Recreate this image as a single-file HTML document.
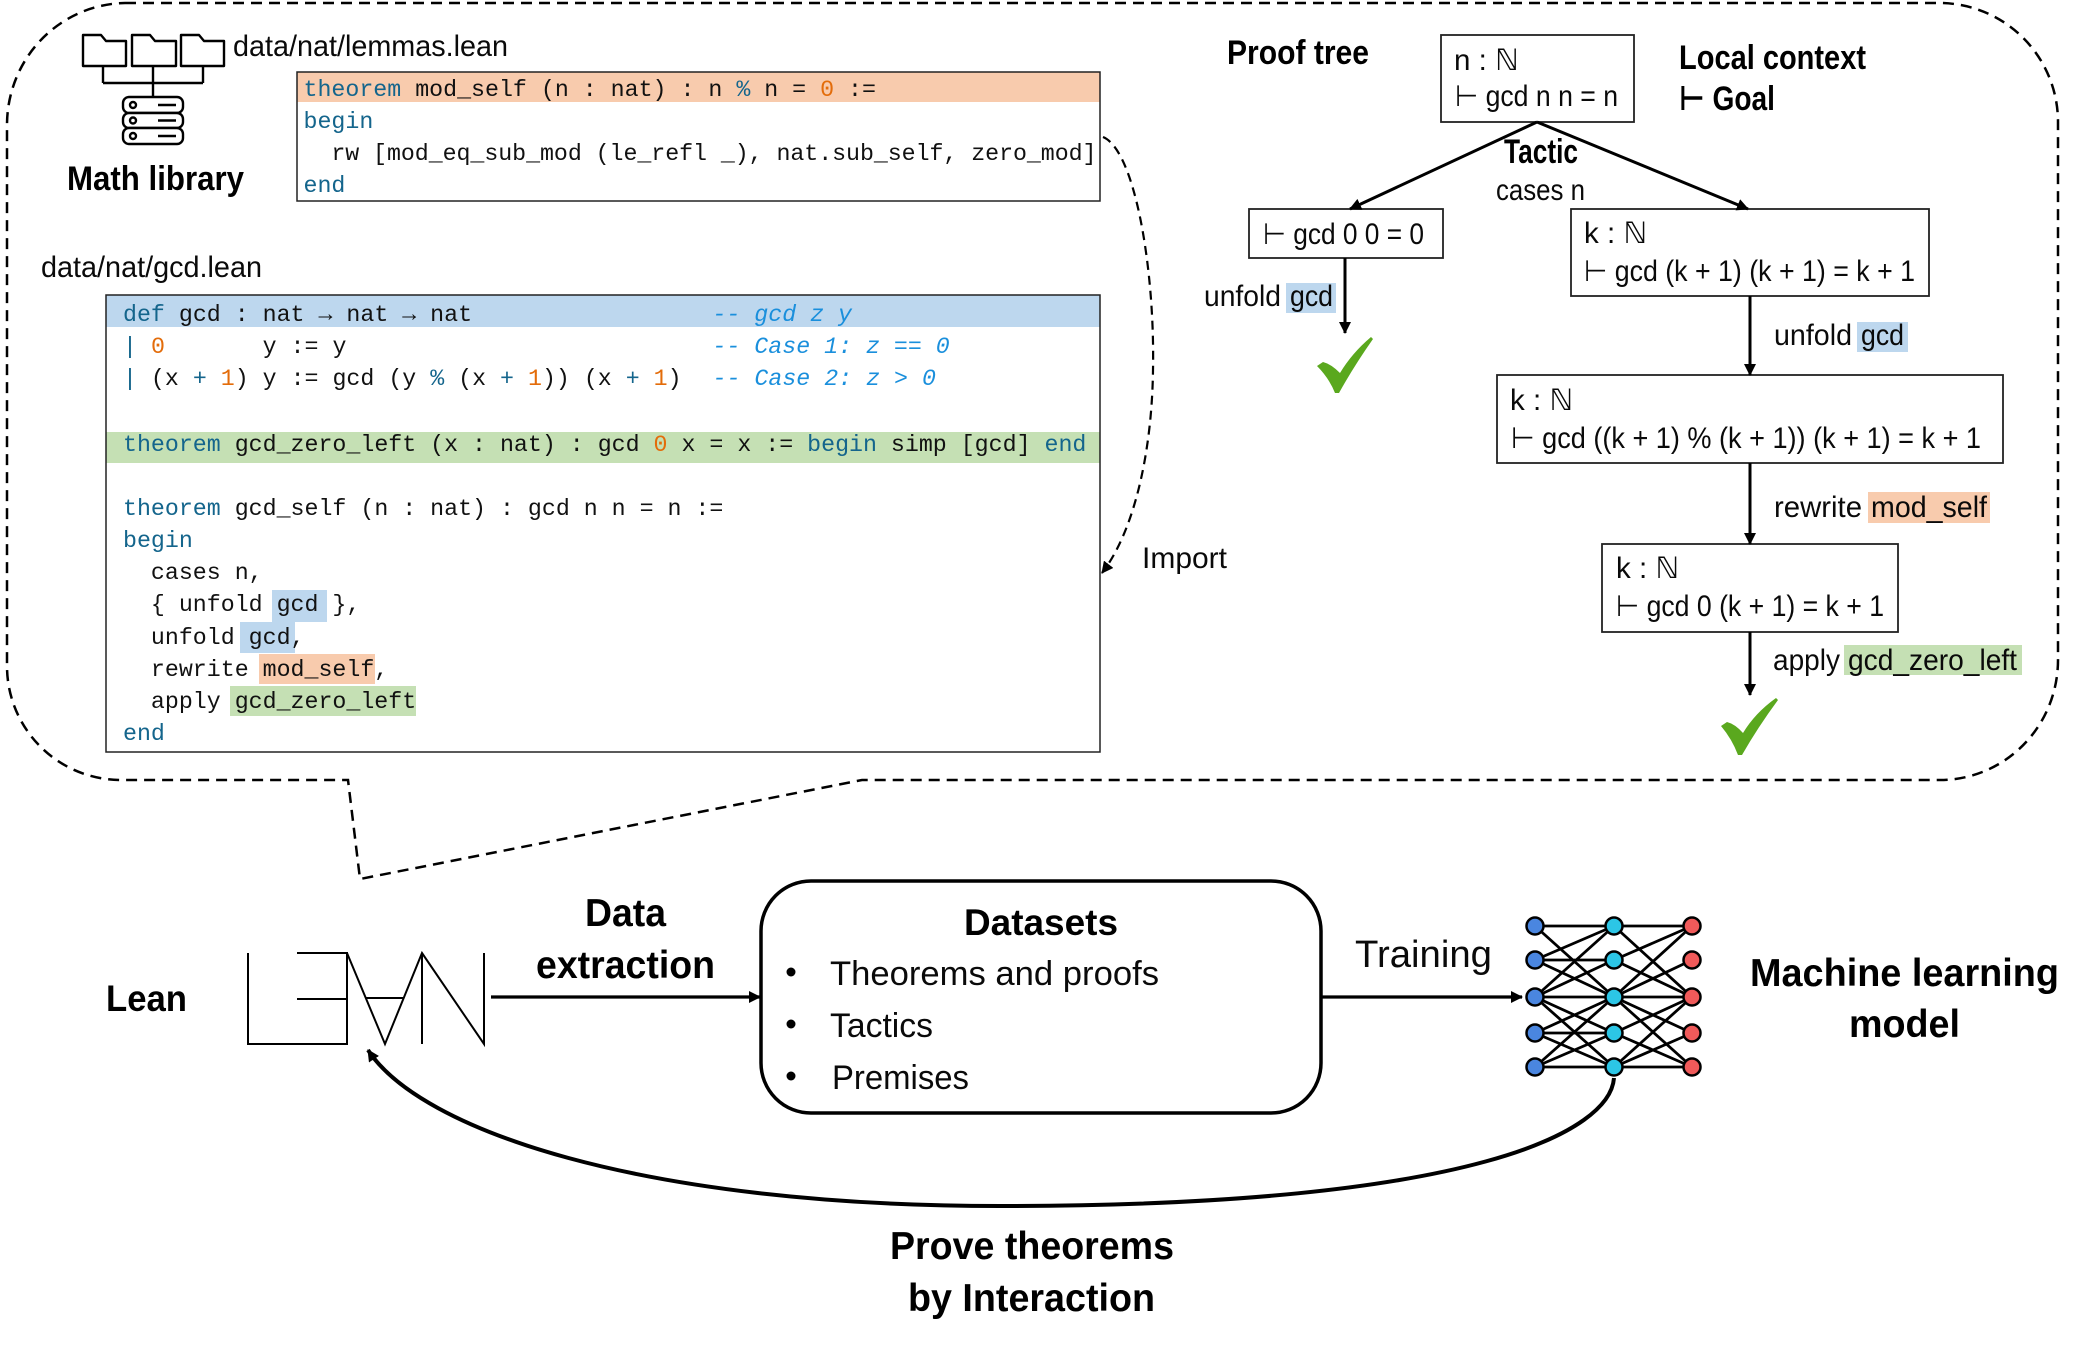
<!DOCTYPE html>
<html><head><meta charset="utf-8"><title>Lean diagram</title>
<style>
html,body{margin:0;padding:0;background:#fff}
svg{display:block}
.s{font-family:"Liberation Sans","DejaVu Sans",sans-serif;font-size:29.5px;fill:#0a0a0a}
.b{font-family:"Liberation Sans","DejaVu Sans",sans-serif;font-size:34px;font-weight:bold;fill:#000}
.m{font-family:"Liberation Mono","DejaVu Sans Mono",monospace;font-size:23.27px;fill:#111;white-space:pre}
.k{fill:#14658c}.o{fill:#e36c0a}.c{fill:#1a8fdc;font-style:italic}
</style></head><body>
<svg width="2097" height="1350" viewBox="0 0 2097 1350" xmlns="http://www.w3.org/2000/svg">
<defs>
<marker id="a" markerUnits="userSpaceOnUse" markerWidth="12" markerHeight="12" refX="11" refY="6" orient="auto"><path d="M0 0L12 6L0 12z" fill="#000"/></marker>
</defs>
<rect width="2097" height="1350" fill="#fff"/>

<!-- dashed callout -->
<path d="M125 3H1938A119 119 0 0 1 2058 122V660A118 120 0 0 1 1940 780H862L360 879L348 780H120A114 114 0 0 1 7 666V125A120 122 0 0 1 125 3Z" fill="none" stroke="#000" stroke-width="2.500" stroke-dasharray="11 7"/>

<!-- folders -->
<g fill="#fff" stroke="#000" stroke-width="2.400" stroke-linejoin="round">
<path d="M103 66V83M153 66V97M203 66V83M103 83H203" fill="none"/>
<path d="M83 66V35H101L106 41H126V66Z"/>
<path d="M132 66V35H150L155 41H176V66Z"/>
<path d="M181 66V35H199L204 41H224V66Z"/>
<rect x="123" y="97" width="60" height="16" rx="6"/>
<rect x="123" y="113" width="60" height="15" rx="6"/>
<rect x="123" y="128" width="60" height="16" rx="6"/>
<circle cx="133" cy="105" r="3"/><circle cx="133" cy="120.500" r="3"/><circle cx="133" cy="136" r="3"/>
<path d="M158 105H176M158 120.500H176M158 136H176" fill="none"/>
</g>
<text class="s" x="233" y="56" textLength="275" lengthAdjust="spacingAndGlyphs">data/nat/lemmas.lean</text>
<text class="b" x="67" y="190" textLength="177" lengthAdjust="spacingAndGlyphs">Math library</text>
<text class="s" x="41" y="277" textLength="221" lengthAdjust="spacingAndGlyphs">data/nat/gcd.lean</text>

<!-- lemmas box -->
<rect x="297" y="72" width="803" height="30" fill="#f8cbad"/>
<rect x="297" y="72" width="803" height="129" fill="none" stroke="#222" stroke-width="1.500"/>
<text class="m" x="303.500" y="96"><tspan class="k">theorem</tspan> mod_self (n : nat) : n <tspan class="k">%</tspan> n = <tspan class="o">0</tspan> :=</text>
<text class="m k" x="303.500" y="128">begin</text>
<text class="m" x="303.500" y="160" textLength="793">  rw [mod_eq_sub_mod (le_refl _), nat.sub_self, zero_mod]</text>
<text class="m k" x="303.500" y="192">end</text>

<!-- gcd box -->
<rect x="106" y="295" width="994" height="32" fill="#bdd7ee"/>
<rect x="106" y="432" width="994" height="31" fill="#c5e0b4"/>
<rect x="272" y="590" width="55" height="32" fill="#bdd7ee"/>
<rect x="240" y="622" width="55" height="31" fill="#bdd7ee"/>
<rect x="259" y="654" width="116" height="30" fill="#f8cbad"/>
<rect x="230" y="686" width="186" height="30" fill="#c5e0b4"/>
<rect x="106" y="295" width="994" height="457" fill="none" stroke="#222" stroke-width="1.500"/>
<text class="m" x="123" y="321"><tspan class="k">def</tspan> gcd : nat → nat → nat                 <tspan class="c" dx="3">-- gcd z y</tspan></text>
<text class="m" x="123" y="353"><tspan class="k">|</tspan> <tspan class="o">0</tspan>       y := y                          <tspan class="c" dx="3">-- Case 1: z == 0</tspan></text>
<text class="m" x="123" y="385"><tspan class="k">|</tspan> (x <tspan class="k">+</tspan> <tspan class="o">1</tspan>) y := gcd (y <tspan class="k">%</tspan> (x <tspan class="k">+</tspan> <tspan class="o">1</tspan>)) (x <tspan class="k">+</tspan> <tspan class="o">1</tspan>)  <tspan class="c" dx="3">-- Case 2: z &gt; 0</tspan></text>
<text class="m" x="123" y="451"><tspan class="k">theorem</tspan> gcd_zero_left (x : nat) : gcd <tspan class="o">0</tspan> x = x := <tspan class="k">begin</tspan> simp [gcd] <tspan class="k">end</tspan></text>
<text class="m" x="123" y="515"><tspan class="k">theorem</tspan> gcd_self (n : nat) : gcd n n = n :=</text>
<text class="m k" x="123" y="547">begin</text>
<text class="m" x="123" y="579">  cases n,</text>
<text class="m" x="123" y="611">  { unfold gcd },</text>
<text class="m" x="123" y="644">  unfold gcd,</text>
<text class="m" x="123" y="676">  rewrite mod_self,</text>
<text class="m" x="123" y="708">  apply gcd_zero_left</text>
<text class="m k" x="123" y="740">end</text>

<!-- import arrow -->
<path d="M1103 137C1135 150 1155 270 1153 370C1152 450 1135 530 1102 573" fill="none" stroke="#000" stroke-width="2.200" stroke-dasharray="9 6" marker-end="url(#a)"/>
<text class="s" x="1142" y="568" textLength="85" lengthAdjust="spacingAndGlyphs">Import</text>

<!-- proof tree -->
<g fill="#fff" stroke="#222" stroke-width="1.800">
<rect x="1441" y="35" width="193" height="87"/>
<rect x="1249" y="209" width="194" height="49"/>
<rect x="1571" y="209" width="358" height="87"/>
<rect x="1497" y="375" width="506" height="88"/>
<rect x="1602" y="544" width="296" height="88"/>
</g>
<g fill="none" stroke="#000" stroke-width="3">
<path d="M1537 122L1350 209" marker-end="url(#a)"/>
<path d="M1537 122L1748 209" marker-end="url(#a)"/>
<path d="M1345 258V333" marker-end="url(#a)"/>
<path d="M1750 296V375" marker-end="url(#a)"/>
<path d="M1750 463V544" marker-end="url(#a)"/>
<path d="M1750 632V695" marker-end="url(#a)"/>
</g>
<text class="b" x="1227" y="64" textLength="142" lengthAdjust="spacingAndGlyphs">Proof tree</text>
<text class="b" x="1679" y="69" textLength="187" lengthAdjust="spacingAndGlyphs">Local context</text>
<text class="b" x="1679" y="110" textLength="96" lengthAdjust="spacingAndGlyphs">⊢ Goal</text>
<text class="b" x="1504" y="163" textLength="74" lengthAdjust="spacingAndGlyphs">Tactic</text>
<text class="s" x="1496" y="200" textLength="89" lengthAdjust="spacingAndGlyphs">cases n</text>
<text class="s" x="1454" y="70">n : ℕ</text>
<text class="s" x="1455" y="106" textLength="163" lengthAdjust="spacingAndGlyphs">⊢ gcd n n = n</text>
<text class="s" x="1263" y="244" textLength="161" lengthAdjust="spacingAndGlyphs">⊢ gcd 0 0 = 0</text>
<text class="s" x="1584" y="243">k : ℕ</text>
<text class="s" x="1584" y="281" textLength="331" lengthAdjust="spacingAndGlyphs">⊢ gcd (k + 1) (k + 1) = k + 1</text>
<text class="s" x="1510" y="410">k : ℕ</text>
<text class="s" x="1511" y="448" textLength="470" lengthAdjust="spacingAndGlyphs">⊢  gcd ((k + 1) % (k + 1)) (k + 1) = k + 1</text>
<text class="s" x="1616" y="578">k : ℕ</text>
<text class="s" x="1616" y="616" textLength="268" lengthAdjust="spacingAndGlyphs">⊢ gcd 0 (k + 1) = k + 1</text>

<rect x="1286" y="283" width="50" height="30" fill="#bdd7ee"/>
<rect x="1857" y="322" width="51" height="30" fill="#bdd7ee"/>
<rect x="1868" y="492" width="122" height="31" fill="#f8cbad"/>
<rect x="1844" y="645" width="178" height="30" fill="#c5e0b4"/>
<text class="s" x="1204" y="306" textLength="77" lengthAdjust="spacingAndGlyphs">unfold</text>
<text class="s" x="1290" y="306" textLength="43" lengthAdjust="spacingAndGlyphs">gcd</text>
<text class="s" x="1774" y="345" textLength="78" lengthAdjust="spacingAndGlyphs">unfold</text>
<text class="s" x="1861" y="345" textLength="43" lengthAdjust="spacingAndGlyphs">gcd</text>
<text class="s" x="1774" y="517" textLength="88" lengthAdjust="spacingAndGlyphs">rewrite</text>
<text class="s" x="1871" y="517" textLength="116" lengthAdjust="spacingAndGlyphs">mod_self</text>
<text class="s" x="1773" y="670" textLength="67" lengthAdjust="spacingAndGlyphs">apply</text>
<text class="s" x="1848" y="670" textLength="169" lengthAdjust="spacingAndGlyphs">gcd_zero_left</text>

<!-- checks -->
<path d="M1317 366L1323 362Q1331 364 1340 373Q1352 353 1371 337L1373 339Q1354 366 1339 393L1335 393Q1329 378 1317 366Z" fill="#5aa81e"/>
<path d="M1721 726L1727 722Q1735 724 1743 733Q1755 713 1776 698L1778 700Q1758 727 1742 755L1738 755Q1732 739 1721 726Z" fill="#5aa81e"/>

<!-- Lean logo -->
<g fill="none" stroke="#000" stroke-width="2">
<path d="M248 953V1044H347V953H297M297 999H347"/>
<path d="M347 953L385 1044L422 953L484 1044V953M422 953V1044M366 998H403"/>
</g>
<text class="b" x="106" y="1011" style="font-size:37px" textLength="81" lengthAdjust="spacingAndGlyphs">Lean</text>
<text class="b" x="585" y="926" style="font-size:39px" textLength="81" lengthAdjust="spacingAndGlyphs">Data</text>
<text class="b" x="536" y="978" style="font-size:39px" textLength="179" lengthAdjust="spacingAndGlyphs">extraction</text>
<path d="M491 997H760" stroke="#000" stroke-width="3.200" marker-end="url(#a)"/>

<!-- Datasets box -->
<rect x="761" y="881" width="560" height="232" rx="50" fill="#fff" stroke="#000" stroke-width="3.500"/>
<text class="b" x="964" y="935" style="font-size:37px" textLength="154" lengthAdjust="spacingAndGlyphs">Datasets</text>
<circle cx="791" cy="972" r="4.500"/><circle cx="791" cy="1024" r="4.500"/><circle cx="791" cy="1076" r="4.500"/>
<text class="s" x="830" y="985" style="font-size:34px" textLength="329" lengthAdjust="spacingAndGlyphs">Theorems and proofs</text>
<text class="s" x="830" y="1037" style="font-size:34px" textLength="103" lengthAdjust="spacingAndGlyphs">Tactics</text>
<text class="s" x="832" y="1089" style="font-size:34px" textLength="137" lengthAdjust="spacingAndGlyphs">Premises</text>

<text class="s" x="1355" y="967" style="font-size:38px" textLength="137" lengthAdjust="spacingAndGlyphs">Training</text>
<path d="M1321 997H1522" stroke="#000" stroke-width="3.200" marker-end="url(#a)"/>

<!-- neural net -->
<path fill="none" stroke="#000" stroke-width="2.800" d="M1535 926H1614M1535 926L1614 997M1535 960L1614 926M1535 960H1614M1535 960L1614 997M1535 997L1614 926M1535 997L1614 960M1535 997H1614M1535 997L1614 1033M1535 997L1614 1067M1535 1033L1614 997M1535 1033H1614M1535 1033L1614 1067M1535 1067L1614 997M1535 1067L1614 1033M1535 1067H1614M1614 926H1692M1614 926L1692 997M1614 960L1692 926M1614 960L1692 997M1614 997L1692 926M1614 997L1692 960M1614 997H1692M1614 997L1692 1033M1614 997L1692 1067M1614 1033L1692 997M1614 1033L1692 1067M1614 1067L1692 997M1614 1067L1692 1033M1614 1067H1692"/>
<g stroke="#000" stroke-width="2.500">
<g fill="#4a86e0"><circle cx="1535" cy="926" r="8.500"/><circle cx="1535" cy="960" r="8.500"/><circle cx="1535" cy="997" r="8.500"/><circle cx="1535" cy="1033" r="8.500"/><circle cx="1535" cy="1067" r="8.500"/></g>
<g fill="#2cc6e6"><circle cx="1614" cy="926" r="8.500"/><circle cx="1614" cy="960" r="8.500"/><circle cx="1614" cy="997" r="8.500"/><circle cx="1614" cy="1033" r="8.500"/><circle cx="1614" cy="1067" r="8.500"/></g>
<g fill="#f05a5a"><circle cx="1692" cy="926" r="8.500"/><circle cx="1692" cy="960" r="8.500"/><circle cx="1692" cy="997" r="8.500"/><circle cx="1692" cy="1033" r="8.500"/><circle cx="1692" cy="1067" r="8.500"/></g>
</g>
<text class="b" x="1750" y="986" style="font-size:39px" textLength="309" lengthAdjust="spacingAndGlyphs">Machine learning</text>
<text class="b" x="1849" y="1037" style="font-size:39px" textLength="111" lengthAdjust="spacingAndGlyphs">model</text>

<!-- feedback curve -->
<path d="M1614 1078C1610 1130 1480 1206 1000 1206C640 1206 420 1130 368 1050" fill="none" stroke="#000" stroke-width="4" marker-end="url(#a)"/>
<text class="b" x="890" y="1259" style="font-size:39px" textLength="284" lengthAdjust="spacingAndGlyphs">Prove theorems</text>
<text class="b" x="908" y="1311" style="font-size:39px" textLength="247" lengthAdjust="spacingAndGlyphs">by Interaction</text>
</svg>
</body></html>
